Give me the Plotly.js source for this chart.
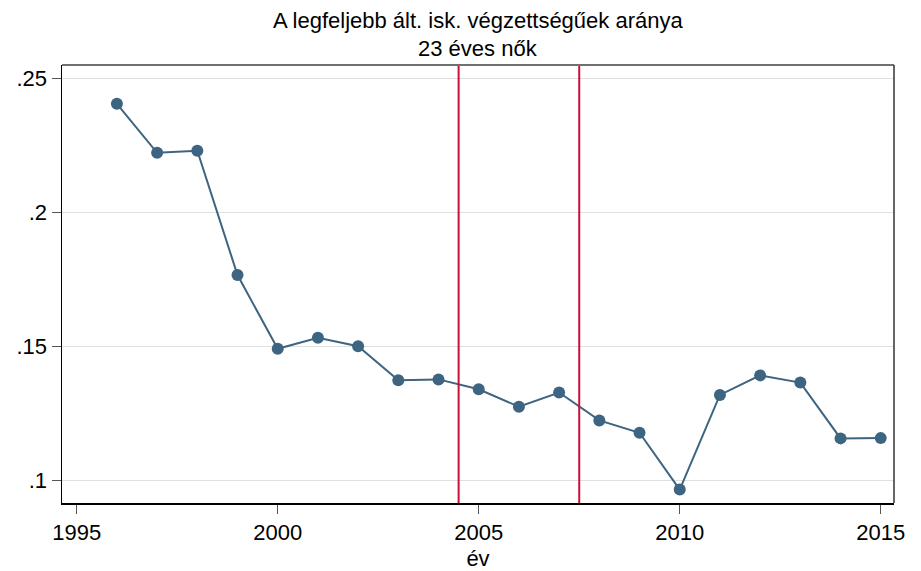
<!DOCTYPE html>
<html>
<head>
<meta charset="utf-8">
<script src="https://cdn.plot.ly/plotly-3.0.1.min.js"></script>
<style>html,body{margin:0;padding:0;background:#fff;}#chart{width:921px;height:571px;}</style>
</head>
<body>
<div id="chart"></div>
<script>
const years = [1996,1997,1998,1999,2000,2001,2002,2003,2004,2005,2006,2007,2008,2009,2010,2011,2012,2013,2014,2015];
const shares = [0.2405,0.2222,0.2230,0.1766,0.1491,0.1532,0.1501,0.1374,0.1377,0.1340,0.1275,0.1328,0.1224,0.1178,0.0966,0.1319,0.1392,0.1365,0.1157,0.1158];
const refLines = [2004.5, 2007.5];
const titleLines = ["A legfeljebb ált. isk. végzettségűek aránya", "23 éves nők"];
const xTicks = [1995,2000,2005,2010,2015];
const yTicks = [0.1,0.15,0.2,0.25];
const yTickText = [".1",".15",".2",".25"];
const xTitle = "év";

const font = "Liberation Sans, Arial, Helvetica, sans-serif";
const trace = {
  x: years, y: shares, type: 'scatter', mode: 'lines+markers',
  line: {color: '#3d6480', width: 2},
  marker: {color: '#3d6480', size: 12},
  hoverinfo: 'skip'
};
const shapes = refLines.map(v => ({
  type: 'line', xref: 'x', yref: 'paper', x0: v, x1: v, y0: 0, y1: 1,
  line: {color: '#c8103a', width: 2}
}));
shapes.push({type:'line', xref:'paper', yref:'paper', x0:0, x1:1, y0:1, y1:1, line:{color:'#707070', width:2}});
shapes.push({type:'line', xref:'paper', yref:'paper', x0:1, x1:1, y0:0, y1:1, line:{color:'#333333', width:1.5}});
const layout = {
  width: 921, height: 571,
  margin: {l: 62, r: 27, t: 65, b: 68},
  paper_bgcolor: '#fff', plot_bgcolor: '#fff',
  font: {family: font, color: '#000', size: 22},
  showlegend: false,
  xaxis: {
    range: [1994.634, 2015.33], tickvals: xTicks, ticktext: xTicks.map(String),
    showgrid: false, zeroline: false, showline: true, linecolor: '#000', linewidth: 1.5,
    ticks: 'outside', ticklen: 9, tickwidth: 1, tickcolor: '#555',
    tickfont: {family: font, size: 22, color: '#000'},
    title: {text: xTitle, font: {family: font, size: 22, color: '#000'}, standoff: 8}
  },
  yaxis: {
    range: [0.0916, 0.25496], tickvals: yTicks, ticktext: yTickText,
    showgrid: true, gridcolor: '#e0e0e0', gridwidth: 1, zeroline: false,
    showline: true, linecolor: '#000', linewidth: 1.5,
    ticks: 'outside', ticklen: 9, tickwidth: 1, tickcolor: '#555',
    tickfont: {family: font, size: 22, color: '#000'}
  },
  shapes: shapes,
  annotations: [
    {text: titleLines[0], xref: 'paper', yref: 'paper', x: 0.5, y: 1.1027, xanchor: 'center', yanchor: 'middle', showarrow: false, font: {family: font, size: 22, color: '#000'}},
    {text: titleLines[1], xref: 'paper', yref: 'paper', x: 0.5, y: 1.0388, xanchor: 'center', yanchor: 'middle', showarrow: false, font: {family: font, size: 22, color: '#000'}}
  ]
};
Plotly.newPlot('chart', [trace], layout, {displayModeBar: false, staticPlot: true});
</script>
</body>
</html>
